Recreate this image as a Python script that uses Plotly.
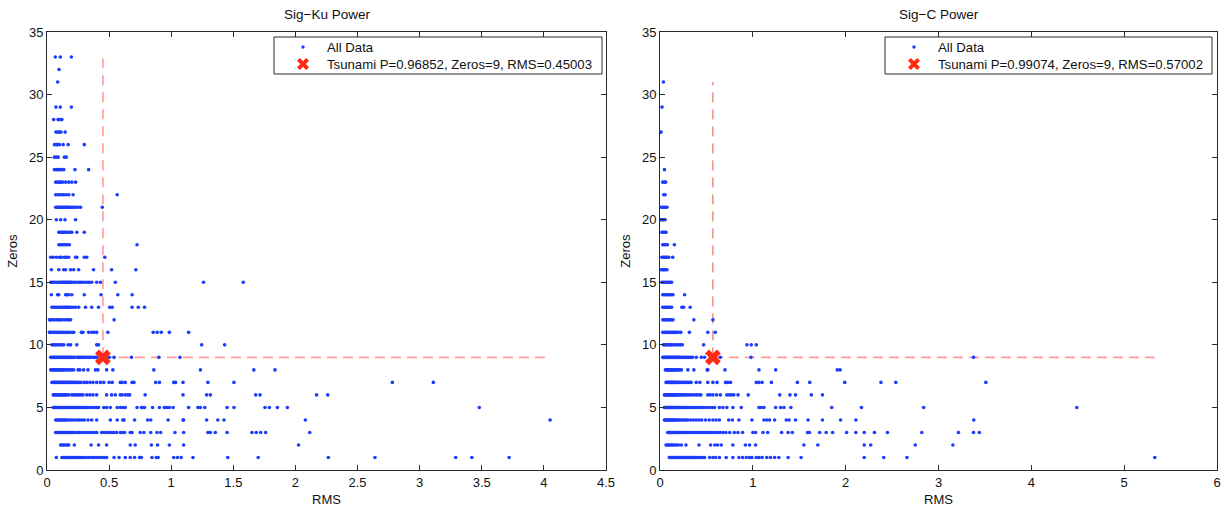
import plotly.graph_objects as go

# ---------------- Sig-Ku power: RMS values grouped by number of zeros ----------------
ku_33 = [0.067, 0.107, 0.196]
ku_32 = [0.097]
ku_31 = [0.086]
ku_29 = [0.072, 0.107, 0.196]
ku_28 = [0.054, 0.089, 0.100, 0.120]
ku_27 = [0.072, 0.087, 0.100, 0.113, 0.146]
ku_26 = [0.060, 0.075, 0.085, 0.100, 0.130, 0.170, 0.300]
ku_25 = [0.060, 0.075, 0.090, 0.140, 0.155]
ku_24 = [0.060, 0.075, 0.090, 0.100, 0.115, 0.135, 0.225, 0.335]
ku_23 = [0.070, 0.085, 0.100, 0.110, 0.125, 0.150, 0.175, 0.200, 0.230]
ku_22 = [0.070, 0.090, 0.100, 0.120, 0.135, 0.155, 0.175, 0.210, 0.565]
ku_21 = [0.070, 0.080, 0.090, 0.100, 0.110, 0.120, 0.130, 0.140, 0.150, 0.160,
         0.170, 0.180, 0.190, 0.205, 0.220, 0.235, 0.250, 0.270, 0.445]
ku_20 = [0.075, 0.110, 0.145, 0.230]
ku_19 = [0.095, 0.105, 0.115, 0.125, 0.135, 0.145, 0.160, 0.175, 0.190, 0.200, 0.240, 0.300]
ku_18 = [0.095, 0.105, 0.120, 0.135, 0.150, 0.165, 0.180, 0.725]
ku_17 = [0.030, 0.050, 0.075, 0.100, 0.115, 0.140, 0.155, 0.175, 0.230, 0.240, 0.300, 0.320, 0.465]
ku_16 = [0.035, 0.095, 0.135, 0.150, 0.190, 0.215, 0.255, 0.375, 0.520, 0.715]
ku_15 = [0.030, 0.040, 0.055, 0.070, 0.085, 0.100, 0.110, 0.120, 0.130, 0.140,
         0.150, 0.160, 0.170, 0.180, 0.190, 0.200, 0.215, 0.230, 0.250, 0.265,
         0.280, 0.300, 0.320, 0.340, 0.360, 0.400, 0.430, 0.550, 1.260, 1.580]
ku_14 = [0.035, 0.085, 0.095, 0.150, 0.160, 0.175, 0.200, 0.300, 0.435, 0.570, 0.685]
ku_13 = [0.040, 0.050, 0.065, 0.080, 0.095, 0.110, 0.125, 0.140, 0.150, 0.160,
         0.170, 0.180, 0.195, 0.210, 0.230, 0.255, 0.310, 0.360, 0.415, 0.505,
         0.525, 0.685, 0.735, 0.785]
ku_12 = [0.020, 0.030, 0.045, 0.060, 0.075, 0.090, 0.105, 0.120, 0.140, 0.160, 0.175, 0.190, 0.540]
ku_11 = [0.020, 0.030, 0.045, 0.060, 0.075, 0.090, 0.105, 0.120, 0.135, 0.150,
         0.165, 0.180, 0.200, 0.215, 0.277, 0.290, 0.335, 0.360, 0.380, 0.400,
         0.490, 0.855, 0.887, 0.920, 0.985, 1.140]
ku_10 = [0.040, 0.055, 0.065, 0.080, 0.095, 0.110, 0.125, 0.135, 0.170, 0.190,
         0.240, 0.400, 0.415, 1.245, 1.430]
ku_9 = [0.030, 0.040, 0.050, 0.060, 0.070, 0.080, 0.090, 0.100, 0.110, 0.120,
        0.130, 0.140, 0.150, 0.160, 0.170, 0.180, 0.190, 0.200, 0.210, 0.225,
        0.245, 0.255, 0.265, 0.275, 0.290, 0.305, 0.320, 0.335, 0.350, 0.370,
        0.385, 0.400, 0.500, 0.540, 0.680, 0.900, 1.070]
ku_8 = [0.030, 0.040, 0.050, 0.060, 0.070, 0.080, 0.090, 0.100, 0.110, 0.120,
        0.130, 0.140, 0.155, 0.170, 0.185, 0.200, 0.215, 0.250, 0.265, 0.295,
        0.330, 0.390, 0.410, 0.480, 0.530, 0.860, 1.235, 1.665, 1.835]
ku_7 = [0.040, 0.050, 0.060, 0.070, 0.080, 0.090, 0.100, 0.110, 0.120, 0.130,
        0.140, 0.150, 0.160, 0.170, 0.180, 0.190, 0.200, 0.210, 0.220, 0.230,
        0.245, 0.260, 0.275, 0.300, 0.320, 0.345, 0.370, 0.400, 0.430, 0.457,
        0.500, 0.525, 0.590, 0.605, 0.630, 0.685, 0.700, 0.875, 0.905, 1.020,
        1.035, 1.095, 1.295, 1.505, 2.780, 3.110]
ku_6 = [0.050, 0.060, 0.070, 0.080, 0.090, 0.100, 0.110, 0.120, 0.130, 0.140,
        0.150, 0.160, 0.175, 0.200, 0.215, 0.230, 0.245, 0.260, 0.275, 0.290,
        0.320, 0.345, 0.370, 0.400, 0.480, 0.520, 0.550, 0.590, 0.605, 0.630,
        0.650, 0.665, 0.790, 1.095, 1.285, 1.315, 1.680, 1.715, 2.170, 2.260]
ku_5 = [0.050, 0.058, 0.066, 0.074, 0.082, 0.090, 0.098, 0.106, 0.114, 0.122,
        0.130, 0.138, 0.146, 0.154, 0.162, 0.170, 0.180, 0.190, 0.200, 0.210,
        0.220, 0.230, 0.240, 0.250, 0.260, 0.270, 0.280, 0.290, 0.300, 0.310,
        0.320, 0.340, 0.360, 0.380, 0.400, 0.415, 0.457, 0.480, 0.510, 0.565,
        0.590, 0.610, 0.630, 0.725, 0.760, 0.770, 0.785, 0.850, 0.905, 0.945,
        0.965, 0.985, 1.015, 1.140, 1.215, 1.235, 1.270, 1.450, 1.505, 1.755,
        1.790, 1.855, 1.935, 3.480]
ku_4 = [0.070, 0.080, 0.090, 0.100, 0.110, 0.120, 0.130, 0.140, 0.150, 0.160,
        0.175, 0.190, 0.205, 0.225, 0.245, 0.260, 0.280, 0.300, 0.330, 0.360,
        0.400, 0.510, 0.565, 0.610, 0.620, 0.705, 0.810, 0.835, 0.975, 1.095,
        1.100, 1.285, 1.375, 1.425, 2.080, 4.050]
ku_3 = [0.070, 0.080, 0.090, 0.100, 0.110, 0.120, 0.130, 0.140, 0.150, 0.160,
        0.170, 0.180, 0.190, 0.200, 0.210, 0.220, 0.240, 0.250, 0.260, 0.280,
        0.300, 0.320, 0.340, 0.360, 0.380, 0.400, 0.440, 0.460, 0.480, 0.500,
        0.520, 0.540, 0.560, 0.590, 0.605, 0.625, 0.670, 0.685, 0.750, 0.780,
        0.835, 0.885, 0.915, 1.030, 1.100, 1.295, 1.315, 1.355, 1.450, 1.650,
        1.685, 1.720, 1.760, 2.115]
ku_2 = [0.110, 0.120, 0.135, 0.150, 0.165, 0.175, 0.220, 0.355, 0.415, 0.480,
        0.670, 0.710, 0.840, 0.890, 0.985, 1.100, 2.025]
ku_1 = [0.075, 0.120, 0.130, 0.140, 0.150, 0.160, 0.170, 0.180, 0.190, 0.200,
        0.210, 0.220, 0.230, 0.240, 0.255, 0.270, 0.285, 0.300, 0.320, 0.340,
        0.360, 0.380, 0.400, 0.420, 0.440, 0.460, 0.480, 0.540, 0.580, 0.630,
        0.670, 0.705, 0.745, 0.760, 0.845, 0.880, 0.895, 1.020, 1.050, 1.080,
        1.175, 1.455, 1.700, 2.265, 2.640, 3.290, 3.420, 3.720]

# ---------------- Sig-C power: RMS values grouped by number of zeros ----------------
c_31 = [0.037]
c_29 = [0.022]
c_27 = [0.012]
c_24 = [0.048]
c_23 = [0.030, 0.045, 0.060]
c_22 = [0.040, 0.055]
c_21 = [0.015, 0.030, 0.045, 0.060, 0.075]
c_20 = [0.012, 0.025, 0.040, 0.055]
c_19 = [0.020, 0.035, 0.050, 0.065]
c_18 = [0.030, 0.045, 0.060, 0.080, 0.155]
c_17 = [0.020, 0.035, 0.050, 0.065, 0.080, 0.095, 0.137]
c_16 = [0.015, 0.030, 0.045, 0.060, 0.075]
c_15 = [0.020, 0.035, 0.050, 0.065, 0.080, 0.095, 0.110, 0.125]
c_14 = [0.030, 0.045, 0.060, 0.075, 0.090, 0.105, 0.120, 0.140, 0.265]
c_13 = [0.030, 0.045, 0.060, 0.075, 0.090, 0.105, 0.125, 0.235, 0.255, 0.325]
c_12 = [0.030, 0.045, 0.060, 0.075, 0.090, 0.105, 0.120, 0.140, 0.365, 0.570]
c_11 = [0.030, 0.045, 0.060, 0.075, 0.090, 0.105, 0.120, 0.135, 0.150, 0.165,
        0.180, 0.200, 0.225, 0.317, 0.515, 0.595]
c_10 = [0.037, 0.050, 0.065, 0.080, 0.095, 0.110, 0.125, 0.140, 0.160, 0.180,
        0.200, 0.220, 0.240, 0.470, 0.937, 0.983, 1.037]
c_9 = [0.030, 0.040, 0.050, 0.060, 0.070, 0.080, 0.090, 0.100, 0.110, 0.120,
       0.130, 0.140, 0.150, 0.160, 0.170, 0.180, 0.190, 0.200, 0.210, 0.225,
       0.240, 0.255, 0.275, 0.290, 0.310, 0.330, 0.350, 0.390, 0.445, 0.480,
       0.650, 0.980, 3.377]
c_8 = [0.058, 0.070, 0.080, 0.090, 0.100, 0.110, 0.120, 0.130, 0.140, 0.150,
       0.160, 0.170, 0.185, 0.200, 0.215, 0.230, 0.300, 0.365, 0.508, 0.515,
       0.700, 1.066, 1.246, 1.910, 1.940]
c_7 = [0.065, 0.075, 0.085, 0.095, 0.105, 0.115, 0.125, 0.135, 0.145, 0.155,
       0.165, 0.175, 0.190, 0.205, 0.220, 0.240, 0.260, 0.280, 0.300, 0.320,
       0.335, 0.390, 0.430, 0.515, 0.570, 0.615, 0.706, 0.730, 0.760, 1.037,
       1.066, 1.100, 1.200, 1.480, 1.613, 1.990, 2.380, 2.540, 3.510]
c_6 = [0.047, 0.055, 0.065, 0.075, 0.085, 0.095, 0.105, 0.115, 0.125, 0.135,
       0.145, 0.155, 0.165, 0.175, 0.185, 0.200, 0.215, 0.230, 0.245, 0.260,
       0.280, 0.300, 0.320, 0.345, 0.370, 0.395, 0.420, 0.440, 0.515, 0.540,
       0.570, 0.610, 0.650, 0.720, 0.745, 0.770, 0.795, 0.840, 0.950, 1.290,
       1.400, 1.460, 1.630, 1.750]
c_5 = [0.047, 0.055, 0.063, 0.071, 0.079, 0.087, 0.095, 0.103, 0.111, 0.119,
       0.127, 0.135, 0.143, 0.151, 0.159, 0.167, 0.175, 0.185, 0.195, 0.205,
       0.215, 0.225, 0.240, 0.255, 0.270, 0.285, 0.300, 0.320, 0.340, 0.360,
       0.380, 0.400, 0.420, 0.445, 0.470, 0.500, 0.530, 0.560, 0.587, 0.640,
       0.677, 0.720, 0.785, 0.875, 1.066, 1.090, 1.120, 1.246, 1.300, 1.335,
       1.410, 1.850, 2.170, 2.840, 4.490]
c_4 = [0.047, 0.055, 0.065, 0.075, 0.085, 0.095, 0.105, 0.115, 0.125, 0.135,
       0.145, 0.155, 0.165, 0.175, 0.190, 0.205, 0.220, 0.240, 0.260, 0.280,
       0.300, 0.330, 0.360, 0.390, 0.420, 0.450, 0.490, 0.530, 0.570, 0.605,
       0.640, 0.740, 0.780, 0.850, 0.990, 1.120, 1.150, 1.180, 1.235, 1.360,
       1.390, 1.460, 1.595, 1.750, 1.945, 2.110, 3.380]
c_3 = [0.083, 0.093, 0.103, 0.113, 0.123, 0.133, 0.143, 0.153, 0.163, 0.173,
       0.183, 0.193, 0.203, 0.215, 0.230, 0.245, 0.260, 0.275, 0.290, 0.305,
       0.320, 0.340, 0.360, 0.380, 0.400, 0.420, 0.440, 0.460, 0.480, 0.500,
       0.525, 0.550, 0.575, 0.600, 0.625, 0.650, 0.680, 0.710, 0.750, 0.800,
       0.840, 0.890, 1.000, 1.030, 1.110, 1.160, 1.310, 1.380, 1.425, 1.590,
       1.610, 1.720, 1.790, 1.860, 2.010, 2.110, 2.200, 2.310, 2.450, 2.820,
       3.215, 3.377, 3.440]
c_2 = [0.065, 0.080, 0.095, 0.110, 0.125, 0.140, 0.160, 0.180, 0.200, 0.230,
       0.280, 0.420, 0.545, 0.590, 0.620, 0.660, 0.785, 0.920, 0.965, 1.030,
       1.550, 1.700, 2.200, 2.270, 2.750, 3.155]
c_1 = [0.100, 0.112, 0.124, 0.136, 0.148, 0.160, 0.172, 0.184, 0.196, 0.208,
       0.220, 0.232, 0.244, 0.256, 0.268, 0.280, 0.292, 0.304, 0.316, 0.328,
       0.340, 0.352, 0.364, 0.376, 0.388, 0.400, 0.420, 0.440, 0.460, 0.480,
       0.535, 0.570, 0.600, 0.640, 0.713, 0.785, 0.850, 0.890, 0.930, 0.965,
       0.990, 1.037, 1.066, 1.100, 1.150, 1.190, 1.235, 1.280, 1.380, 1.520,
       2.200, 2.410, 2.660, 5.330]

# Tsunami event for each channel
ku_tsunami_p, ku_tsunami_zeros, ku_tsunami_rms = 0.96852, 9, 0.45003
c_tsunami_p, c_tsunami_zeros, c_tsunami_rms = 0.99074, 9, 0.57002

# Axis ticks
ku_xticks = [0, 0.5, 1, 1.5, 2, 2.5, 3, 3.5, 4, 4.5]
c_xticks = [0, 1, 2, 3, 4, 5, 6]
y_ticks = [0, 5, 10, 15, 20, 25, 30, 35]

ku_rows = {
    1: ku_1, 2: ku_2, 3: ku_3, 4: ku_4, 5: ku_5, 6: ku_6, 7: ku_7, 8: ku_8,
    9: ku_9, 10: ku_10, 11: ku_11, 12: ku_12, 13: ku_13, 14: ku_14, 15: ku_15,
    16: ku_16, 17: ku_17, 18: ku_18, 19: ku_19, 20: ku_20, 21: ku_21, 22: ku_22,
    23: ku_23, 24: ku_24, 25: ku_25, 26: ku_26, 27: ku_27, 28: ku_28, 29: ku_29,
    31: ku_31, 32: ku_32, 33: ku_33,
}
c_rows = {
    1: c_1, 2: c_2, 3: c_3, 4: c_4, 5: c_5, 6: c_6, 7: c_7, 8: c_8, 9: c_9,
    10: c_10, 11: c_11, 12: c_12, 13: c_13, 14: c_14, 15: c_15, 16: c_16,
    17: c_17, 18: c_18, 19: c_19, 20: c_20, 21: c_21, 22: c_22, 23: c_23,
    24: c_24, 27: c_27, 29: c_29, 31: c_31,
}


def flatten(rows):
    xs, ys = [], []
    for z, vals in rows.items():
        xs.extend(vals)
        ys.extend([z] * len(vals))
    return xs, ys


ku_x, ku_y = flatten(ku_rows)
c_x, c_y = flatten(c_rows)

W, H = 1223, 508
ML, MR, MT, MB = 47, 6, 32, 38
PW, PH = W - ML - MR, H - MT - MB
dom1 = [0, (606 - ML) / PW]
dom2 = [(660 - ML) / PW, 1.0]


def pxx(px):
    return (px - ML) / PW


def pxy(py):
    return 1 - (py - MT) / PH


DOT = "#1c3cff"
XRED = "#ff2a12"
PINK = "#ff9b9b"
AXC = "#2a2a2a"
FONT = "Liberation Sans, Arial, Helvetica, sans-serif"

fig = go.Figure()


def add_panel(xs, ys, t_rms, t_zeros, xa, ya, vcolor, vwidth):
    # dashed guides through the tsunami point
    fig.add_trace(go.Scatter(
        x=[t_rms, max(xs)], y=[t_zeros, t_zeros], mode="lines",
        line=dict(color=PINK, width=1.6, dash="10px,6px"),
        xaxis=xa, yaxis=ya, showlegend=False, hoverinfo="skip"))
    fig.add_trace(go.Scatter(
        x=[t_rms, t_rms], y=[t_zeros, max(ys)], mode="lines",
        line=dict(color=vcolor, width=vwidth, dash="10px,7px"),
        xaxis=xa, yaxis=ya, showlegend=False, hoverinfo="skip"))
    fig.add_trace(go.Scatter(
        x=xs, y=ys, mode="markers", name="All Data",
        marker=dict(color=DOT, size=3.6, line=dict(width=0)),
        xaxis=xa, yaxis=ya, showlegend=False))
    fig.add_trace(go.Scatter(
        x=[t_rms], y=[t_zeros], mode="markers", name="Tsunami",
        marker=dict(color=XRED, size=14, symbol="x", line=dict(width=0)),
        xaxis=xa, yaxis=ya, showlegend=False))


add_panel(ku_x, ku_y, ku_tsunami_rms, ku_tsunami_zeros, "x", "y", PINK, 1.6)
add_panel(c_x, c_y, c_tsunami_rms, c_tsunami_zeros, "x2", "y2", "#e0583f", 1.0)


def add_legend_box(left, right, top, bottom, p, z, rms):
    fig.add_shape(type="rect", xref="paper", yref="paper",
                  x0=pxx(left), x1=pxx(right), y0=pxy(bottom), y1=pxy(top),
                  line=dict(color=AXC, width=1), fillcolor="white", layer="above")
    row1, row2 = top + 10, top + 27
    glyph_x = pxx(left + 29)
    # blue dot glyph
    fig.add_shape(type="circle", xref="paper", yref="paper",
                  xsizemode="pixel", ysizemode="pixel",
                  xanchor=glyph_x, yanchor=pxy(row1),
                  x0=-1.7, x1=1.7, y0=-1.7, y1=1.7,
                  fillcolor=DOT, line=dict(width=0), layer="above")
    # red cross glyph
    fig.add_shape(type="path", xref="paper", yref="paper",
                  xsizemode="pixel", ysizemode="pixel",
                  xanchor=glyph_x, yanchor=pxy(row2),
                  path="M -4.6,-4.6 L 4.6,4.6 M -4.6,4.6 L 4.6,-4.6",
                  line=dict(color=XRED, width=4), layer="above")
    for row, text in [(row1, "All Data"),
                      (row2, f"Tsunami P={p:.5f}, Zeros={z}, RMS={rms:.5f}")]:
        fig.add_annotation(x=pxx(left + 51), y=pxy(row), xref="paper", yref="paper",
                           text=text, showarrow=False, xanchor="left", yanchor="middle",
                           font=dict(family=FONT, size=13.2, color="#111"))


add_legend_box(274, 602, 37, 74, ku_tsunami_p, ku_tsunami_zeros, ku_tsunami_rms)
add_legend_box(885, 1212, 37, 74, c_tsunami_p, c_tsunami_zeros, c_tsunami_rms)

axis_common = dict(
    showgrid=False, zeroline=False, showline=True, mirror="ticks",
    linecolor=AXC, linewidth=1, ticks="inside", ticklen=5,
    tickcolor=AXC, tickfont=dict(family=FONT, size=13, color="#111"),
    automargin=False,
)

fig.update_layout(
    width=W, height=H,
    margin=dict(l=ML, r=MR, t=MT, b=MB, autoexpand=False),
    paper_bgcolor="white", plot_bgcolor="white",
    font=dict(family=FONT, size=13, color="#111"),
    showlegend=False,
    xaxis=dict(domain=dom1, range=[0, 4.5], tickvals=ku_xticks,
               ticktext=[f"{v:g}" for v in ku_xticks],
               title=dict(text="RMS", standoff=6, font=dict(size=13)), **axis_common),
    yaxis=dict(domain=[0, 1], range=[0, 35], tickvals=y_ticks,
               title=dict(text="Zeros", standoff=8, font=dict(size=13)), **axis_common),
    xaxis2=dict(domain=dom2, range=[0, 6], tickvals=c_xticks, anchor="y2",
                title=dict(text="RMS", standoff=6, font=dict(size=13)), **axis_common),
    yaxis2=dict(domain=[0, 1], range=[0, 35], tickvals=y_ticks, anchor="x2",
                title=dict(text="Zeros", standoff=8, font=dict(size=13)), **axis_common),
)

for dom, text in [(dom1, "Sig\u2212Ku Power"), (dom2, "Sig\u2212C Power")]:
    fig.add_annotation(x=(dom[0] + dom[1]) / 2, y=pxy(14), xref="paper", yref="paper",
                       text=text, showarrow=False, xanchor="center", yanchor="middle",
                       font=dict(family=FONT, size=13.5, color="#111"))

fig.write_html("out.html")
